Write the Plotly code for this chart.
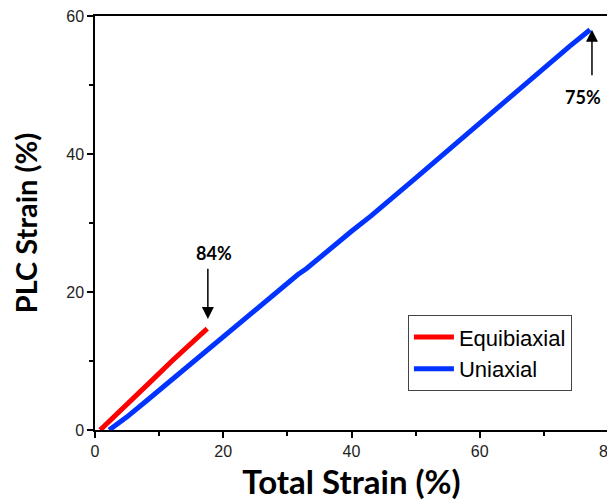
import plotly.graph_objects as go

# Data
equi_x = [0.8, 3, 6, 9, 12, 15, 17.5]
equi_y = [0.0, 1.9, 4.6, 7.3, 10.0, 12.6, 14.7]

uni_x = [2.2, 5, 8, 12, 16, 20, 24, 28, 30.5, 31.6, 33, 36, 40, 43, 46, 50, 55, 60, 65, 70, 74, 77.2]
uni_y = [0.0, 1.9, 4.2, 7.3, 10.4, 13.5, 16.6, 19.7, 21.7, 22.5, 23.4, 25.8, 28.8, 31.0, 33.3, 36.5, 40.5, 44.5, 48.4, 52.4, 55.6, 58.0]

fig = go.Figure()
fig.add_trace(go.Scatter(x=equi_x, y=equi_y, mode="lines", name="Equibiaxial",
                         line=dict(color="#ff0000", width=5)))
fig.add_trace(go.Scatter(x=uni_x, y=uni_y, mode="lines", name="Uniaxial",
                         line=dict(color="#0033ff", width=5)))

axis_common = dict(showline=True, linecolor="black", linewidth=1.5, mirror=True,
                   ticks="outside", ticklen=6, tickwidth=1.5, tickcolor="black",
                   showgrid=False, zeroline=False, automargin=False,
                   ticklabeloverflow="allow",
                   tickfont=dict(family="Liberation Sans, Arial", size=16, color="#222"),
                   minor=dict(ticks="outside", ticklen=4, tickwidth=1.5, tickcolor="black", dtick=10))

fig.update_xaxes(range=[0, 80], dtick=20, **axis_common,
                 title=dict(text="<b>Total Strain (%)</b>", font=dict(family="Lato, Open Sans", size=33, color="black"), standoff=12))
fig.update_yaxes(range=[0, 60], dtick=20, **axis_common,
                 title=dict(text="<b>PLC Strain (%)</b>", font=dict(family="Lato, Open Sans", size=29, color="black"), standoff=20))

# Arrows
fig.add_annotation(x=17.6, y=16.1, ax=17.6, ay=23.6, xref="x", yref="y", axref="x", ayref="y",
                   text="", showarrow=True, arrowhead=2, arrowsize=1.6, arrowwidth=1.5, arrowcolor="black")
fig.add_annotation(x=18.5, y=25.6, text="<b>84%</b>", showarrow=False,
                   font=dict(family="Lato, Open Sans", size=18, color="black"))
fig.add_annotation(x=77.5, y=58.0, ax=77.5, ay=51.2, xref="x", yref="y", axref="x", ayref="y",
                   text="", showarrow=True, arrowhead=2, arrowsize=1.6, arrowwidth=1.5, arrowcolor="black")
fig.add_annotation(x=76.1, y=48.3, text="<b>75%</b>", showarrow=False,
                   font=dict(family="Lato, Open Sans", size=18, color="black"))

# The page adds an 8px offset; margins compensate so the plot area lands where the reference has it
fig.update_layout(
    width=615, height=504,
    margin=dict(l=87, r=15, t=8, b=82),
    plot_bgcolor="white", paper_bgcolor="white",
    legend=dict(x=0.61, y=0.277, xanchor="left", yanchor="top",
                bordercolor="#444", borderwidth=1, bgcolor="white",
                font=dict(family="Liberation Sans, Arial", size=22, color="black"),
                tracegroupgap=0, itemwidth=40),
    showlegend=True,
)

fig.write_html("out.html")
